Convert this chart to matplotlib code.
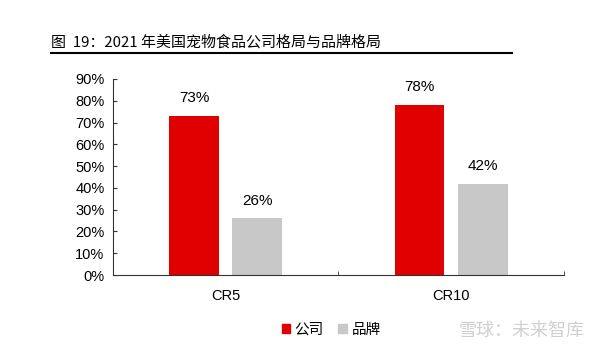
import numpy as np
from matplotlib import pyplot as plt
from matplotlib.lines import Line2D
import matplotlib

plt.rcParams['font.family'] = ['Noto Sans CJK SC', 'DejaVu Sans']

cats = ['CR5', 'CR10']
company = [0.73, 0.78]
brand = [0.26, 0.42]
series_names = ['公司', '品牌']
title = '图  19：2021 年美国宠物食品公司格局与品牌格局'

red = '#e00000'
gray = '#c8c8c8'

fig = plt.figure(figsize=(6, 3.54), dpi=100)
ax = fig.add_axes([0.188, 0.223, 0.752, 0.554])

x = np.arange(len(cats))
w = 0.22
b1 = ax.bar(x - 0.14, company, w, color=red)
b2 = ax.bar(x + 0.14, brand, w, color=gray)
for bars, vals in ((b1, company), (b2, brand)):
  for r, v in zip(bars, vals):
    ax.text(r.get_x() + r.get_width() / 2, v + 0.05, '%d%%' % round(v * 100),
            ha='center', va='bottom', fontsize=11, family='Liberation Sans')

ax.set_xlim(-0.5, 1.5)
ax.set_ylim(0, 0.9)
ax.set_yticks(np.arange(0, 0.91, 0.1))
ax.set_yticklabels(['%d%%' % round(t * 100) for t in np.arange(0, 0.91, 0.1)],
                   family='Liberation Sans', fontsize=10.5)
ax.set_xticks(x)
ax.set_xticklabels(cats, family='Liberation Sans', fontsize=10.5)
ax.set_xticks([-0.5, 0.5, 1.5], minor=True)
ax.tick_params(axis='x', which='major', length=0, pad=10)
ax.tick_params(axis='x', which='minor', length=3, direction='in', color='#333333')
ax.tick_params(axis='y', length=3, direction='in', color='#333333', pad=6)
for s in ['top', 'right']:
  ax.spines[s].set_visible(False)
for s in ['left', 'bottom']:
  ax.spines[s].set_color('#333333')

fig.text(0.085, 0.88, title, fontsize=10.8, va='center', ha='left')
fig.add_artist(Line2D([0.085, 0.853], [0.85, 0.85], color='black', lw=1.5))

handles = [plt.Rectangle((0, 0), 1, 1, color=red), plt.Rectangle((0, 0), 1, 1, color=gray)]
fig.legend(handles, series_names, loc='center', bbox_to_anchor=(0.552, 0.068), ncol=2,
           frameon=False, fontsize=10.5, handlelength=0.6, handleheight=0.6,
           handletextpad=0.3, columnspacing=1.0)

fig.text(0.975, 0.065, '雪球：未来智库', fontsize=13, color='#d0d0d0', ha='right', va='center')

plt.savefig('out.png', dpi=100)
